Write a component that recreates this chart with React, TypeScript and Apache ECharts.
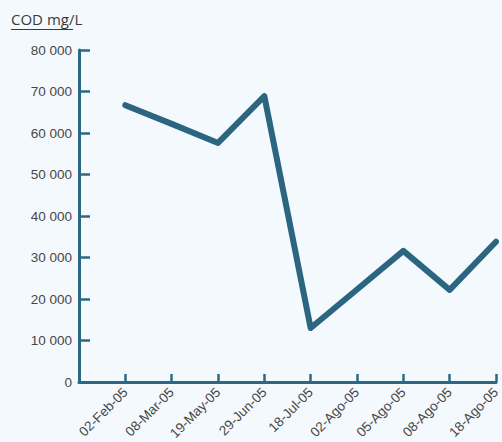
import React, { useEffect, useRef } from "react";
import * as echarts from "echarts";

const dates = [
  "02-Feb-05",
  "08-Mar-05",
  "19-May-05",
  "29-Jun-05",
  "18-Jul-05",
  "02-Ago-05",
  "05-Ago-05",
  "08-Ago-05",
  "18-Ago-05",
];
const codValues = [66700, 62200, 57600, 68900, 13000, 22300, 31600, 22200, 33800];
const yTicks = { min: 0, max: 80000, interval: 10000 };
const yTitle = "COD mg/L";

const AXIS = "#2c6883";
const LINE = "#2b6580";
const TEXT = "#474747";
const FONT = "'Liberation Sans', Arial, sans-serif";

export default function App() {
  const ref = useRef<HTMLDivElement>(null);
  useEffect(() => {
    if (!ref.current) return;
    const chart = echarts.init(ref.current, null, { renderer: "svg" });
    chart.setOption({
      animation: false,
      backgroundColor: "#f4f9fd",
      grid: { left: 79, right: 6, top: 50, bottom: 60, containLabel: false, outerBoundsMode: "none" },
      graphic: [
        {
          type: "text",
          left: 11,
          top: 11,
          style: { text: yTitle, fill: "#3a3a3a", font: "15px 'Open Sans', sans-serif" },
        },
        {
          type: "line",
          shape: { x1: 11, y1: 29.5, x2: 73, y2: 29.5 },
          style: { stroke: "#3a3a3a", lineWidth: 1.2 },
        },
      ],
      xAxis: {
        type: "category",
        data: ["", ...dates],
        boundaryGap: false,
        axisLine: { lineStyle: { color: AXIS, width: 3 } },
        axisTick: { inside: true, length: 8, lineStyle: { color: AXIS, width: 2.5 }, interval: 0 },
        axisLabel: {
          interval: 0,
          rotate: 45,
          margin: 8,
          color: TEXT,
          fontFamily: FONT,
          fontSize: 13.5,
        },
        splitLine: { show: false },
      },
      yAxis: {
        type: "value",
        min: yTicks.min,
        max: yTicks.max,
        interval: yTicks.interval,
        axisLine: { show: true, lineStyle: { color: AXIS, width: 3 } },
        axisTick: { show: true, inside: true, length: 11, lineStyle: { color: AXIS, width: 2.5 } },
        axisLabel: {
          margin: 7,
          color: TEXT,
          fontFamily: FONT,
          fontSize: 13.5,
          formatter: (v: number) => String(v).replace(/\B(?=(\d{3})+(?!\d))/g, " "),
        },
        splitLine: { show: false },
      },
      series: [
        {
          type: "line",
          data: [null, ...codValues],
          showSymbol: false,
          symbol: "none",
          lineStyle: { color: LINE, width: 6, cap: "round", join: "round" },
        },
      ],
    });
    return () => chart.dispose();
  }, []);
  return <div ref={ref} style={{ width: 502, height: 442, position: "absolute", left: 0, top: 0 }} />;
}
